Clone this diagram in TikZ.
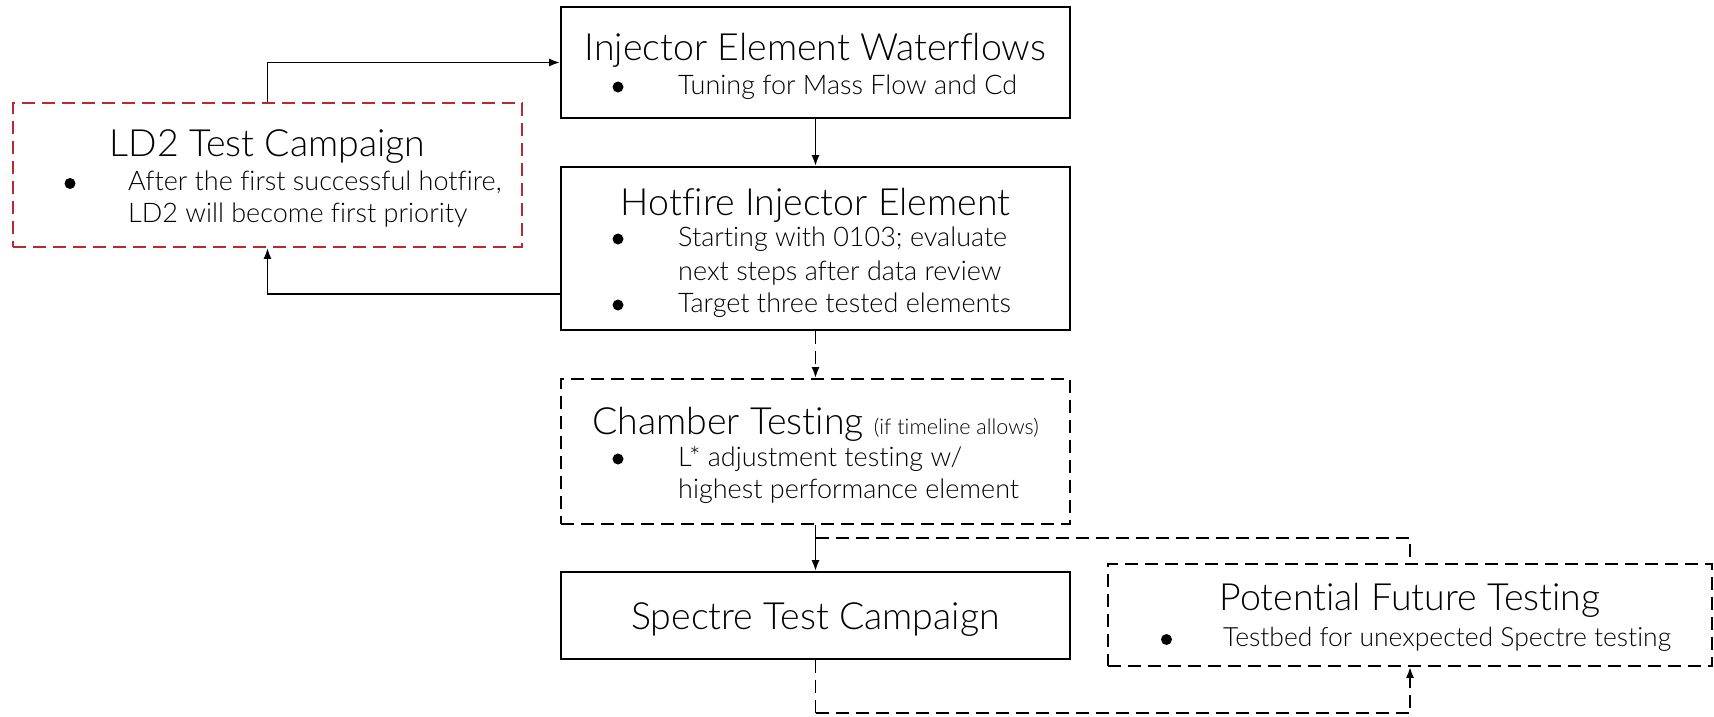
\documentclass[tikz,border=0pt]{standalone}
\usepackage{fontspec}
\setmainfont{Lato}[UprightFont={* Light}, Ligatures=NoCommon]
\usetikzlibrary{arrows.meta}
\definecolor{ldred}{RGB}{190,40,45}
\begin{document}
\begin{tikzpicture}[x=1pt,y=-1pt,
  box/.style={draw, line width=1.8pt, inner sep=0pt, minimum width=509pt},
  dbox/.style={box, dash pattern=on 13pt off 7pt},
  rbox/.style={dbox, draw=ldred},
  ttl/.style={inner sep=0pt, anchor=base, font=\fontsize{37.5}{40}\selectfont},
  txt/.style={inner sep=0pt, anchor=base west, font=\fontsize{27}{30}\selectfont},
  stxt/.style={txt, font=\fontsize{26.5}{30}\selectfont},
  conn/.style={line width=1.8pt},
  dconn/.style={conn, dash pattern=on 13pt off 7pt},
  tip/.style={-{Latex[length=11pt,width=8pt]}},
  bul/.style={fill=black}
]
\useasboundingbox (0,0) rectangle (1714,716);

% boxes
\node[box, minimum height=111pt] (inj) at (815.5,62.5) {};
\node[box, minimum height=163pt] (hot) at (815.5,248.5) {};
\node[dbox, minimum height=145pt] (ch) at (815.5,451.5) {};
\node[box, minimum height=87pt] (sp) at (815.5,615.5) {};
\node[dbox, minimum width=604pt, minimum height=102pt] (pf) at (1410,615) {};
\node[rbox, minimum height=144pt] (ld) at (267.5,175) {};

% Injector Element Waterflows
\node[ttl] (injt) at (815.5,60.5) {Injector Element Waterflows};
\fill[bul] (618,87) circle (5.5);
\node[txt] (injb) at (678,94) {Tuning for Mass Flow and Cd};

% Hotfire
\node[ttl] (hott) at (815.5,215.5) {Hotfire Injector Element};
\fill[bul] (618,239) circle (5.5);
\node[txt] (hotb1) at (678,246.5) {Starting with 0103; evaluate};
\node[txt] (hotb2) at (678,280) {next steps after data review};
\fill[bul] (618,305) circle (5.5);
\node[txt] (hotb3) at (678,312.5) {Target three tested elements};

% Chamber
\node[ttl] (cht) at (815.5,434.5) {Chamber Testing {\fontsize{21.5}{24}\selectfont (if timeline allows)}};
\fill[bul] (618,459) circle (5.5);
\node[txt] (chb1) at (678,466.5) {L* adjustment testing w/};
\node[txt] (chb2) at (678,498.5) {highest performance element};

% Spectre
\node[ttl] (spt) at (815.5,629) {Spectre Test Campaign};

% Potential
\node[ttl] (pft) at (1410,610) {Potential Future Testing};
\fill[bul] (1166.5,639.5) circle (5.5);
\node[stxt] (pfb) at (1223,646.5) {Testbed for unexpected Spectre testing};

% LD2
\node[ttl] (ldt) at (267.5,156.5) {LD2 Test Campaign};
\fill[bul] (70,183.5) circle (5.5);
\node[txt] (ldb1) at (128,190.5) {After the first successful hotfire,};
\node[txt] (ldb2) at (128,222.5) {LD2 will become first priority};

% connectors
\coordinate (hw) at (hot.west |- 0,294);
\coordinate (br) at (815.5,538);
\coordinate (bot) at (815.5,713);
\draw[conn,tip] (ld.north) |- (inj.west);
\draw[conn,tip] (inj.south) -- (hot.north);
\draw[conn,tip] (hw) -| (ld.south);
\draw[dconn,tip] (hot.south) -- (ch.north);
\draw[conn,tip] (ch.south) -- (sp.north);
\draw[dconn] (br) -| (pf.north);
\draw[dconn] (sp.south) -- (bot);
\draw[dconn,tip] (bot) -| (pf.south);
\end{tikzpicture}
\end{document}
